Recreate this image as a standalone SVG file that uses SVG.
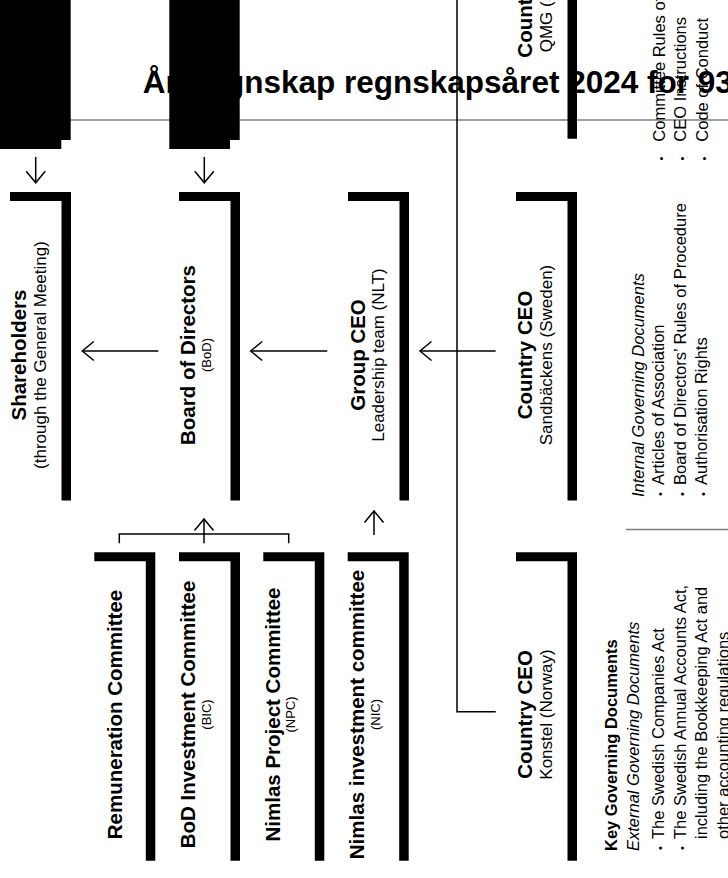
<svg xmlns="http://www.w3.org/2000/svg" xmlns:xlink="http://www.w3.org/1999/xlink" width="728" height="878" viewBox="0 0 728 878">
<defs>
<style>
text{font-family:"Liberation Sans",Arial,sans-serif;fill:#000}
.b{font-weight:bold;font-size:20.5px;text-anchor:middle}
.r{font-size:17px;text-anchor:middle}
.s{font-size:13px;text-anchor:middle}
.li{font-size:16.5px}
.it{font-size:16.5px;font-style:italic}
.hd{font-size:16.5px;font-weight:bold}
.bul{font-size:11px;text-anchor:middle}
.title{font-size:31.5px;font-weight:bold}
.ln{fill:none;stroke:#000;stroke-width:1.5}
.ar{fill:none;stroke:#000;stroke-width:1.5;marker-end:url(#ah)}
.grey{fill:none;stroke:#808080;stroke-width:1.5}
</style>
<path id="br" d="M0,0 H61 V308.5 H51.5 V9 H0 Z" fill="#000"/>
<marker id="ah" viewBox="-13 -11 15 22" markerWidth="15" markerHeight="22" refX="0" refY="0" orient="auto" markerUnits="userSpaceOnUse">
<path d="M-11.5,-9.5 L0,0 L-11.5,9.5" fill="none" stroke="#000" stroke-width="1.5"/>
</marker>
</defs>
<rect width="728" height="878" fill="#fff"/>

<g id="title">
<text class="title" x="142.7" y="92.7">Årsregnskap regnskapsåret 2024 for 93</text>
<line class="grey" x1="0" y1="120" x2="728" y2="120"/>
</g>

<g id="top-blocks">
<polygon points="0,0 70.7,0 70.7,140 61.3,140 61.3,149 0,149" fill="#000"/>
<polygon points="169.3,0 239.7,0 239.7,140 230,140 230,149 169.3,149" fill="#000"/>
</g>

<g id="connectors">
<path class="ln" d="M457,0 V711.7 H495.7"/>
<line class="ar" x1="158.3" y1="351" x2="82.3" y2="351"/>
<line class="ar" x1="327.3" y1="351" x2="250.7" y2="351"/>
<line class="ar" x1="495.7" y1="351" x2="420" y2="351"/>
<line class="ar" x1="35.7" y1="157" x2="35.7" y2="182.7"/>
<line class="ar" x1="204.3" y1="157" x2="204.3" y2="182.7"/>
<path class="ln" d="M119.3,543.3 V534 H288.7 V543.3"/>
<line class="ar" x1="204" y1="543.3" x2="204" y2="519"/>
<line class="ar" x1="374" y1="535" x2="374" y2="511"/>
</g>

<g id="country-qmg">
<use xlink:href="#br" x="516" y="-169.7"/>
<text class="b" transform="translate(532,-6.7) rotate(-90)">Country CEO</text>
<text class="r" transform="translate(552,-6.7) rotate(-90)">QMG (Sweden)</text>
</g>

<g id="shareholders">
<use xlink:href="#br" x="10" y="192"/>
<text class="b" transform="translate(26,355) rotate(-90)">Shareholders</text>
<text class="r" transform="translate(46,355) rotate(-90)">(through the General Meeting)</text>
</g>

<g id="board">
<use xlink:href="#br" x="179" y="192"/>
<text class="b" transform="translate(195,355) rotate(-90)">Board of Directors</text>
<text class="s" transform="translate(211,355) rotate(-90)">(BoD)</text>
</g>

<g id="group-ceo">
<use xlink:href="#br" x="348" y="192"/>
<text class="b" transform="translate(364.5,355) rotate(-90)">Group CEO</text>
<text class="r" transform="translate(384,355) rotate(-90)">Leadership team (NLT)</text>
</g>

<g id="country-sweden">
<use xlink:href="#br" x="516" y="192"/>
<text class="b" transform="translate(532,355) rotate(-90)">Country CEO</text>
<text class="r" transform="translate(552,355) rotate(-90)">Sandbäckens (Sweden)</text>
</g>

<g id="remuneration">
<use xlink:href="#br" x="94.3" y="552.3"/>
<text class="b" transform="translate(121.5,714.5) rotate(-90)">Remuneration Committee</text>
</g>

<g id="bic">
<use xlink:href="#br" x="179" y="552.3"/>
<text class="b" transform="translate(195,714.5) rotate(-90)">BoD Investment Committee</text>
<text class="s" transform="translate(211,714.5) rotate(-90)">(BIC)</text>
</g>

<g id="npc">
<use xlink:href="#br" x="263.3" y="552.3"/>
<text class="b" transform="translate(279.5,714.5) rotate(-90)">Nimlas Project Committee</text>
<text class="s" transform="translate(295.3,714.5) rotate(-90)">(NPC)</text>
</g>

<g id="nic">
<use xlink:href="#br" x="347.7" y="552.3"/>
<text class="b" transform="translate(364,714.5) rotate(-90)">Nimlas investment committee</text>
<text class="s" transform="translate(379.7,714.5) rotate(-90)">(NIC)</text>
</g>

<g id="country-norway">
<use xlink:href="#br" x="516" y="552.3"/>
<text class="b" transform="translate(532,714.5) rotate(-90)">Country CEO</text>
<text class="r" transform="translate(552,714.5) rotate(-90)">Konstel (Norway)</text>
</g>

<g id="docs-top">
<text class="bul" transform="translate(664.5,158.5) rotate(-90)">•</text>
<text class="li" transform="translate(664.5,141.7) rotate(-90)">Committee Rules of Procedure</text>
<text class="bul" transform="translate(686,158.5) rotate(-90)">•</text>
<text class="li" transform="translate(686,141.7) rotate(-90)">CEO Instructions</text>
<text class="bul" transform="translate(707.5,158.5) rotate(-90)">•</text>
<text class="li" transform="translate(707.5,141.7) rotate(-90)">Code of Conduct</text>
</g>

<g id="docs-internal">
<text class="it" transform="translate(644,497) rotate(-90)">Internal Governing Documents</text>
<text class="bul" transform="translate(664,494) rotate(-90)">•</text>
<text class="li" transform="translate(664,485) rotate(-90)">Articles of Association</text>
<text class="bul" transform="translate(685.5,494) rotate(-90)">•</text>
<text class="li" transform="translate(685.5,485) rotate(-90)">Board of Directors’ Rules of Procedure</text>
<text class="bul" transform="translate(707,494) rotate(-90)">•</text>
<text class="li" transform="translate(707,485) rotate(-90)">Authorisation Rights</text>
<line class="grey" x1="626" y1="529.5" x2="728" y2="529.5" stroke-width="1"/>
</g>

<g id="docs-key">
<text class="hd" transform="translate(617,851) rotate(-90)">Key Governing Documents</text>
<text class="it" transform="translate(639,851) rotate(-90)">External Governing Documents</text>
<text class="bul" transform="translate(664,848) rotate(-90)">•</text>
<text class="li" transform="translate(664,839) rotate(-90)">The Swedish Companies Act</text>
<text class="bul" transform="translate(685.5,848) rotate(-90)">•</text>
<text class="li" transform="translate(685.5,839) rotate(-90)">The Swedish Annual Accounts Act,</text>
<text class="li" transform="translate(707,839) rotate(-90)">including the Bookkeeping Act and</text>
<text class="li" transform="translate(728.5,839) rotate(-90)">other accounting regulations</text>
</g>
</svg>
